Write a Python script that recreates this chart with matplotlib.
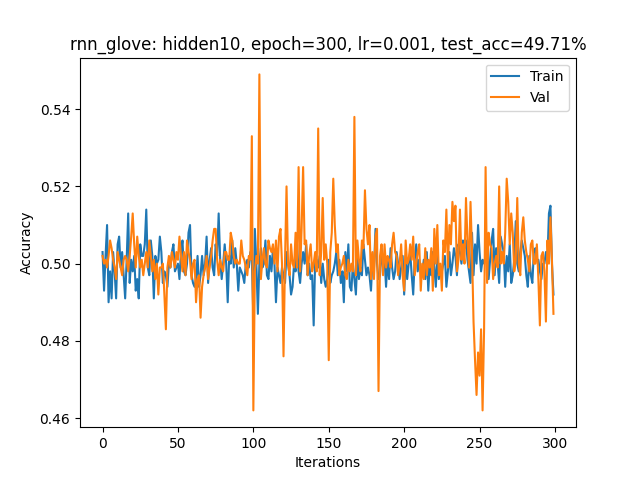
import matplotlib
matplotlib.use("Agg")
import matplotlib.pyplot as plt

# accuracy per iteration
train_acc = [
    0.503, 0.493, 0.502, 0.510, 0.490, 0.498, 0.491, 0.503, 0.498, 0.491,
    0.505, 0.507, 0.499, 0.503, 0.497, 0.491, 0.501, 0.513, 0.495, 0.501,
    0.498, 0.502, 0.493, 0.496, 0.491, 0.505, 0.502, 0.502, 0.505, 0.514,
    0.499, 0.497, 0.506, 0.502, 0.491, 0.502, 0.500, 0.501, 0.507, 0.503,
    0.495, 0.498, 0.497, 0.494, 0.500, 0.499, 0.503, 0.505, 0.498, 0.499,
    0.500, 0.496, 0.503, 0.506, 0.498, 0.497, 0.500, 0.508, 0.510, 0.497,
    0.495, 0.494, 0.496, 0.502, 0.494, 0.497, 0.502, 0.497, 0.500, 0.507,
    0.495, 0.501, 0.504, 0.499, 0.497, 0.505, 0.502, 0.513, 0.501, 0.496,
    0.500, 0.505, 0.500, 0.490, 0.502, 0.500, 0.506, 0.499, 0.504, 0.500,
    0.493, 0.499, 0.498, 0.497, 0.495, 0.500, 0.501, 0.499, 0.503, 0.501,
    0.486, 0.509, 0.500, 0.487, 0.500, 0.504, 0.499, 0.500, 0.506, 0.497,
    0.496, 0.502, 0.498, 0.504, 0.500, 0.490, 0.499, 0.497, 0.495, 0.499,
    0.497, 0.495, 0.503, 0.500, 0.497, 0.492, 0.494, 0.500, 0.498, 0.505,
    0.498, 0.495, 0.500, 0.503, 0.500, 0.505, 0.497, 0.500, 0.496, 0.497,
    0.484, 0.501, 0.501, 0.499, 0.502, 0.495, 0.500, 0.496, 0.494, 0.496,
    0.501, 0.495, 0.497, 0.498, 0.500, 0.503, 0.497, 0.501, 0.495, 0.498,
    0.490, 0.503, 0.498, 0.505, 0.494, 0.493, 0.500, 0.496, 0.492, 0.502,
    0.496, 0.499, 0.497, 0.505, 0.501, 0.497, 0.499, 0.497, 0.493, 0.501,
    0.499, 0.509, 0.500, 0.496, 0.497, 0.504, 0.499, 0.501, 0.494, 0.501,
    0.496, 0.504, 0.499, 0.496, 0.498, 0.503, 0.500, 0.496, 0.499, 0.502,
    0.492, 0.502, 0.496, 0.500, 0.503, 0.497, 0.492, 0.501, 0.505, 0.498,
    0.501, 0.499, 0.497, 0.501, 0.496, 0.503, 0.493, 0.500, 0.497, 0.503,
    0.499, 0.494, 0.502, 0.496, 0.499, 0.498, 0.500, 0.502, 0.494, 0.498,
    0.503, 0.497, 0.500, 0.504, 0.502, 0.497, 0.505, 0.503, 0.500, 0.506,
    0.504, 0.506, 0.501, 0.498, 0.495, 0.508, 0.497, 0.505, 0.500, 0.510,
    0.503, 0.498, 0.501, 0.500, 0.502, 0.505, 0.496, 0.501, 0.506, 0.509,
    0.497, 0.504, 0.500, 0.495, 0.507, 0.505, 0.503, 0.494, 0.502, 0.498,
    0.505, 0.495, 0.497, 0.501, 0.511, 0.500, 0.498, 0.503, 0.506, 0.504,
    0.502, 0.497, 0.494, 0.502, 0.497, 0.495, 0.503, 0.504, 0.501, 0.501,
    0.498, 0.496, 0.500, 0.500, 0.503, 0.501, 0.513, 0.515, 0.500, 0.492,
]
val_acc = [
    0.502, 0.500, 0.501, 0.499, 0.502, 0.506, 0.504, 0.501, 0.499, 0.496,
    0.503, 0.501, 0.499, 0.497, 0.501, 0.502, 0.501, 0.498, 0.502, 0.507,
    0.513, 0.505, 0.499, 0.507, 0.502, 0.499, 0.501, 0.497, 0.500, 0.503,
    0.499, 0.506, 0.502, 0.498, 0.501, 0.496, 0.500, 0.492, 0.499, 0.499,
    0.500, 0.492, 0.483, 0.499, 0.502, 0.499, 0.503, 0.501, 0.499, 0.503,
    0.501, 0.507, 0.502, 0.498, 0.503, 0.497, 0.506, 0.503, 0.501, 0.496,
    0.500, 0.501, 0.490, 0.496, 0.497, 0.486, 0.494, 0.497, 0.499, 0.502,
    0.496, 0.499, 0.502, 0.506, 0.509, 0.509, 0.501, 0.497, 0.501, 0.499,
    0.498, 0.503, 0.503, 0.501, 0.501, 0.508, 0.506, 0.502, 0.500, 0.501,
    0.500, 0.500, 0.506, 0.502, 0.501, 0.499, 0.497, 0.502, 0.501, 0.533,
    0.462, 0.498, 0.502, 0.500, 0.549, 0.496, 0.501, 0.504, 0.500, 0.499,
    0.506, 0.504, 0.503, 0.505, 0.500, 0.506, 0.498, 0.507, 0.509, 0.500,
    0.476, 0.501, 0.520, 0.500, 0.497, 0.505, 0.500, 0.499, 0.508, 0.499,
    0.525, 0.498, 0.509, 0.525, 0.505, 0.506, 0.497, 0.502, 0.505, 0.498,
    0.500, 0.503, 0.498, 0.535, 0.497, 0.503, 0.517, 0.501, 0.505, 0.500,
    0.475, 0.503, 0.508, 0.522, 0.510, 0.503, 0.505, 0.497, 0.499, 0.500,
    0.502, 0.497, 0.496, 0.501, 0.498, 0.500, 0.498, 0.538, 0.497, 0.506,
    0.501, 0.498, 0.506, 0.504, 0.519, 0.509, 0.505, 0.510, 0.496, 0.503,
    0.496, 0.507, 0.509, 0.467, 0.502, 0.505, 0.497, 0.505, 0.499, 0.502,
    0.501, 0.499, 0.505, 0.508, 0.503, 0.502, 0.497, 0.500, 0.505, 0.497,
    0.493, 0.506, 0.500, 0.501, 0.505, 0.501, 0.507, 0.497, 0.500, 0.503,
    0.505, 0.493, 0.500, 0.496, 0.504, 0.497, 0.501, 0.499, 0.504, 0.493,
    0.509, 0.500, 0.510, 0.497, 0.500, 0.493, 0.506, 0.503, 0.514, 0.499,
    0.510, 0.505, 0.516, 0.511, 0.515, 0.498, 0.501, 0.514, 0.501, 0.505,
    0.500, 0.517, 0.506, 0.499, 0.516, 0.503, 0.485, 0.475, 0.466, 0.477,
    0.471, 0.483, 0.462, 0.483, 0.525, 0.495, 0.508, 0.505, 0.504, 0.496,
    0.500, 0.502, 0.499, 0.520, 0.500, 0.503, 0.500, 0.508, 0.522, 0.516,
    0.505, 0.513, 0.508, 0.498, 0.501, 0.517, 0.500, 0.497, 0.508, 0.512,
    0.506, 0.503, 0.501, 0.498, 0.505, 0.506, 0.500, 0.500, 0.505, 0.496,
    0.484, 0.502, 0.503, 0.498, 0.485, 0.506, 0.500, 0.512, 0.501, 0.487,
]
iterations = list(range(len(train_acc)))

plt.figure(figsize=(6.4, 4.8), dpi=100)
plt.plot(iterations, train_acc, label="Train")
plt.plot(iterations, val_acc, label="Val")
plt.title("rnn_glove: hidden10, epoch=300, lr=0.001, test_acc=49.71%")
plt.xlabel("Iterations")
plt.ylabel("Accuracy")
plt.legend()
plt.savefig("out.png")
